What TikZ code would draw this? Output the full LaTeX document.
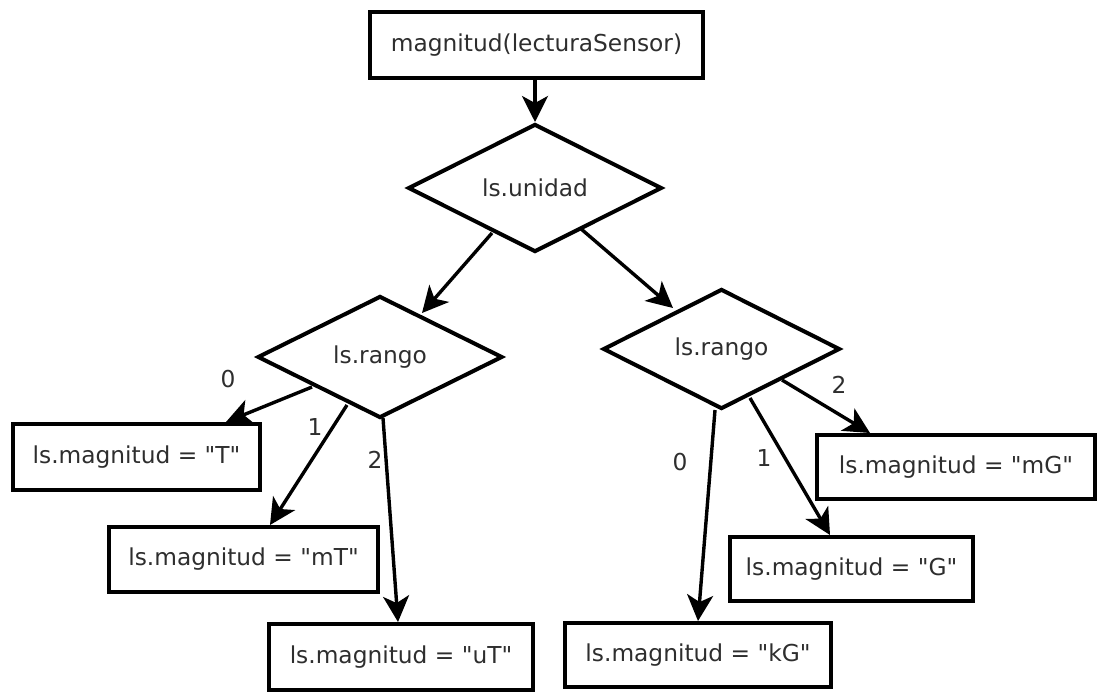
\documentclass[tikz,border=0pt]{standalone}
\usepackage{fontspec}
\setmainfont{DejaVu Sans}[Ligatures=TeXOff]
\usetikzlibrary{shapes.geometric,arrows.meta,calc}
\definecolor{txt}{gray}{0.18}

\begin{document}
\begin{tikzpicture}[x=1pt,y=-1pt,
  every node/.style={text=txt, font=\fontsize{23.3}{27}\selectfont},
  box/.style={draw=black, line width=4pt, rectangle, inner sep=0pt},
  test/.style={draw=black, line width=4pt, diamond, inner sep=0pt, aspect=2},
  flow/.style={line width=3.4pt, -{Stealth[length=26pt,width=26pt,inset=7pt]}},
  lbl/.style={inner sep=0pt}
]
\useasboundingbox (0,0) rectangle (1098,691);

% process and decision nodes
\node[box, minimum width=333pt, minimum height=66pt] (top) at (536.5,45) {magnitud(lecturaSensor)};
\node[test, minimum width=254pt, minimum height=128pt] (unidad) at (535,188) {ls.unidad};
\node[test, minimum width=245pt, minimum height=122pt] (lrango) at (380,357) {ls.rango};
\node[test, minimum width=237pt, minimum height=120pt] (rrango) at (721.5,349) {ls.rango};

% results, tesla branch
\node[box, minimum width=247pt, minimum height=66pt] (T)  at (136.5,457)  {ls.magnitud = "T"};
\node[box, minimum width=269pt, minimum height=65pt] (mT) at (243.5,559.5) {ls.magnitud = "mT"};
\node[box, minimum width=264pt, minimum height=66pt] (uT) at (401,657)    {ls.magnitud = "uT"};

% results, gauss branch
\node[box, minimum width=266pt, minimum height=64pt] (kG) at (698,655)   {ls.magnitud = "kG"};
\node[box, minimum width=243pt, minimum height=64pt] (G)  at (851.5,569) {ls.magnitud = "G"};
\node[box, minimum width=278pt, minimum height=64pt] (mG) at (956,467)   {ls.magnitud = "mG"};

% connectors
\draw[flow] (unidad.north |- top.south) -- (unidad.north);
\draw[flow] ($(unidad.center)+(-43,45)$) -- ($(lrango.center)+(42,-44)$);
\draw[flow] ($(unidad.center)+(45,40)$) -- ($(rrango.center)+(-48.5,-41)$);

\draw[flow] ($(lrango.center)+(-68,30)$) -- ($(T.north)+(89.5,0)$);
\draw[flow] ($(lrango.center)+(-33,48)$) -- ($(mT.north)+(26.5,0)$);
\draw[flow] ($(lrango.center)+(3,61)$) -- ($(uT.north)+(-3,0)$);

\draw[flow] ($(rrango.center)+(-6.5,61)$) -- (kG.north);
\draw[flow] ($(rrango.center)+(28.5,49)$) -- ($(G.north)+(-21.5,0)$);
\draw[flow] ($(rrango.center)+(60.5,31)$) -- ($(mG.north)+(-86,0)$);

% branch labels
\node[lbl] (l0) at (228,379) {0};
\node[lbl] (l1) at (315,427) {1};
\node[lbl] (l2) at (375,460) {2};
\node[lbl] (r0) at (680,462) {0};
\node[lbl] (r1) at (764,458) {1};
\node[lbl] (r2) at (839,385) {2};
\end{tikzpicture}
\end{document}
